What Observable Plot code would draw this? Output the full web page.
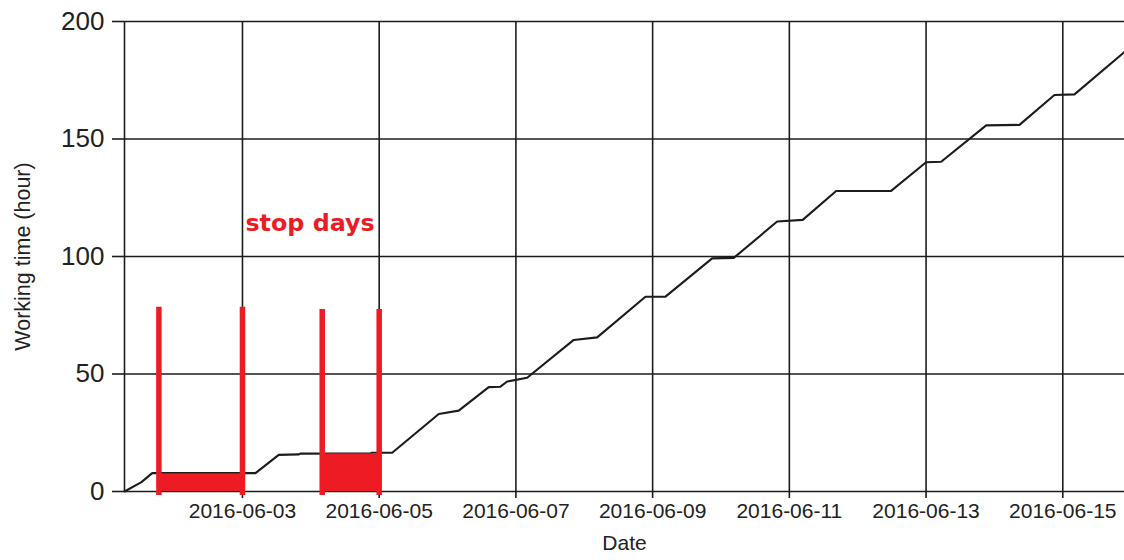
<!DOCTYPE html>
<html>
<head>
<meta charset="utf-8">
<script src="https://cdn.jsdelivr.net/npm/d3@7"></script>
<script src="https://cdn.jsdelivr.net/npm/@observablehq/plot@0.6"></script>
<style>
  html, body { margin: 0; padding: 0; background: #fff; }
  #chart { width: 1124px; height: 560px; }
</style>
</head>
<body>
<div id="chart"></div>
<script>
// ---- data ----
const workTimes = [
  "2016-06-01T06:35", "2016-06-01T12:32", "2016-06-01T16:18", "2016-06-03T04:34",
  "2016-06-03T12:44", "2016-06-03T19:50", "2016-06-03T20:21", "2016-06-04T20:56",
  "2016-06-04T21:30", "2016-06-05T04:34", "2016-06-05T20:55", "2016-06-06T03:56",
  "2016-06-06T14:28", "2016-06-06T18:34", "2016-06-06T20:56", "2016-06-07T03:57",
  "2016-06-07T20:18", "2016-06-08T04:32", "2016-06-08T21:29", "2016-06-09T04:31",
  "2016-06-09T20:54", "2016-06-10T04:29", "2016-06-10T19:44", "2016-06-11T04:42",
  "2016-06-11T16:26", "2016-06-12T11:44", "2016-06-13T00:01", "2016-06-13T05:18",
  "2016-06-13T21:06", "2016-06-14T08:47", "2016-06-14T21:04", "2016-06-15T04:06",
  "2016-06-15T21:40"
];
const workHours = [
  0, 4.0, 7.8, 7.8,
  15.6, 15.8, 16.1, 16.2,
  16.5, 16.5, 33.0, 34.4,
  44.4, 44.6, 46.8, 48.4,
  64.5, 65.6, 82.9, 82.9,
  99.2, 99.4, 114.9, 115.6,
  127.9, 127.9, 140.1, 140.3,
  155.8, 156.0, 168.7, 169.0,
  187.0
];

// stop periods
const stopStarts = ["2016-06-01T18:40", "2016-06-04T04:00"];
const stopEnds   = ["2016-06-03T00:00", "2016-06-05T00:00"];
const stopLevels = [7.5, 16.0];
const stopMarkerTops = [78.4, 77.4];
const stopMarkerBottom = -1.7;

// annotation
const stopLabel = "stop days";
const stopLabelAt = "2016-06-03T01:03";
const stopLabelHours = 111;

// axes
const xDomain = ["2016-06-01T06:35", "2016-06-15T21:40"];
const xTickDates = ["2016-06-03", "2016-06-05", "2016-06-07", "2016-06-09", "2016-06-11", "2016-06-13", "2016-06-15"];
const yTicks = [0, 50, 100, 150, 200];
const xLabel = "Date";
const yLabel = "Working time (hour)";

// ---- build ----
const parse = s => new Date(s.length === 10 ? s + "T00:00Z" : s + "Z");
const series = workTimes.map((t, i) => ({date: parse(t), hours: workHours[i]}));
const stops = stopStarts.map((s, i) => ({start: parse(s), end: parse(stopEnds[i]), level: stopLevels[i], top: stopMarkerTops[i]}));
const markers = stops.flatMap(s => [{x: s.start, top: s.top}, {x: s.end, top: s.top}]);
const xTicks = xTickDates.map(parse);
const dom = xDomain.map(parse);

const RED = "#ed1c24";
const INK = "#1c1c1c";

const chart = Plot.plot({
  width: 1124,
  height: 560,
  marginLeft: 124,
  marginRight: 0,
  marginTop: 21,
  marginBottom: 69,
  x: {type: "utc", domain: dom},
  y: {domain: [0, 200]},
  style: {fontFamily: "'Liberation Sans', Arial, sans-serif", background: "#fff", color: "#222"},
  marks: [
    Plot.ruleY(yTicks, {y: d => d, stroke: INK, strokeWidth: 1.6}),
    Plot.ruleX(xTicks, {x: d => d, stroke: INK, strokeWidth: 1.6}),
    Plot.ruleX([dom[0]], {x: d => d, stroke: INK, strokeWidth: 1.6}),
    Plot.axisY({ticks: yTicks, tickSize: 12, tickPadding: 8, fontSize: 26, label: null, stroke: INK, strokeWidth: 1.6, fill: "#222"}),
    Plot.axisX({ticks: xTicks, tickSize: 7, tickPadding: 5, fontSize: 21, label: null, stroke: INK, strokeWidth: 1.6, fill: "#222", tickFormat: d3.utcFormat("%Y-%m-%d")}),
    Plot.line(series, {x: "date", y: "hours", stroke: INK, strokeWidth: 2.1}),
    Plot.rect(stops, {x1: "start", x2: "end", y1: 0, y2: "level", fill: RED}),
    Plot.ruleX(markers, {x: "x", y1: stopMarkerBottom, y2: "top", stroke: RED, strokeWidth: 5.5}),
    Plot.text([stopLabel], {x: parse(stopLabelAt), y: stopLabelHours, text: d => d, textAnchor: "start", lineAnchor: "bottom", fontSize: 23.8, fontWeight: "bold", fontFamily: "'DejaVu Sans', sans-serif", fill: RED}),
    Plot.text([xLabel], {frameAnchor: "bottom", dy: 52, lineAnchor: "middle", textAnchor: "middle", text: d => d, fontSize: 21, fill: "#222"}),
    Plot.text([yLabel], {frameAnchor: "left", dx: -101, rotate: -90, lineAnchor: "middle", textAnchor: "middle", text: d => d, fontSize: 21.5, fill: "#222"})
  ]
});
document.getElementById("chart").appendChild(chart);
</script>
</body>
</html>
